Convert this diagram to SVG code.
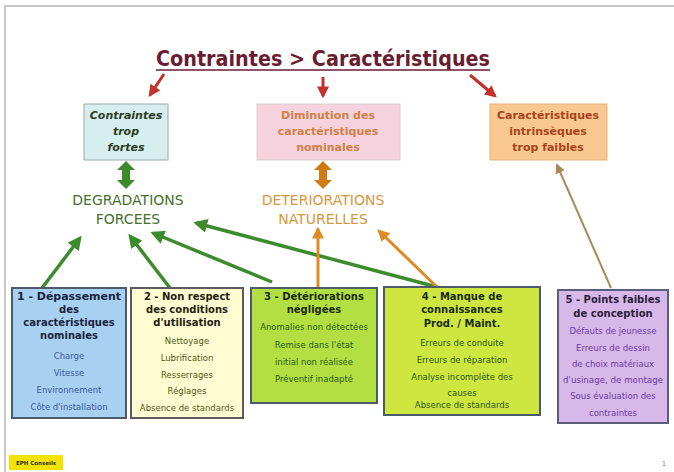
<svg xmlns="http://www.w3.org/2000/svg" width="674" height="472" viewBox="0 0 674 472">
  <style>
    text { font-family: "DejaVu Sans", "Liberation Sans", sans-serif; text-anchor: middle; }
    .hd { font-weight: bold; font-size: 10px; }
    .it { font-size: 8.5px; }
    .top { font-weight: bold; font-size: 11px; }
    .big { font-size: 14px; }
    .g { stroke: #3c8c2e; stroke-width: 3.5; fill: none; marker-end: url(#ag); }
    .o { stroke: #e08a24; stroke-width: 3; fill: none; marker-end: url(#ao); }
    .r { stroke: #c4302a; stroke-width: 3; fill: none; marker-end: url(#ar); }
  </style>
  <defs>
    <marker id="ag" viewBox="0 0 10 10" refX="8" refY="5" markerWidth="4" markerHeight="4" orient="auto">
      <path d="M0,0 L10,5 L0,10 z" fill="#3c8c2e"/>
    </marker>
    <marker id="ao" viewBox="0 0 10 10" refX="8" refY="5" markerWidth="4" markerHeight="4" orient="auto">
      <path d="M0,0 L10,5 L0,10 z" fill="#e08a24"/>
    </marker>
    <marker id="ar" viewBox="0 0 10 10" refX="8" refY="5" markerWidth="4" markerHeight="4" orient="auto">
      <path d="M0,0 L10,5 L0,10 z" fill="#c4302a"/>
    </marker>
    <marker id="ab" viewBox="0 0 10 10" refX="8" refY="5" markerWidth="5" markerHeight="5" orient="auto">
      <path d="M0,0 L10,5 L0,10 z" fill="#a88a5a"/>
    </marker>
  </defs>

  <!-- page -->
  <rect width="674" height="472" fill="#ffffff"/>
  <path d="M5,472 V6 H674" fill="none" stroke="#c8c8c8" stroke-width="2"/>

  <!-- title -->
  <g id="title">
    <text x="323" y="66" font-size="21" font-weight="bold" fill="#6a1d30" textLength="334" lengthAdjust="spacingAndGlyphs">Contraintes &gt; Caractéristiques</text>
    <line x1="156" y1="70" x2="490" y2="70" stroke="#6a1d30" stroke-width="1.5"/>
  </g>

  <!-- connectors -->
  <g id="connectors">
    <path class="r" d="M164,74 L150,95"/>
    <path class="r" d="M323,77 L323,96"/>
    <path class="r" d="M470,75 L495,96"/>

    <!-- double arrows -->
    <g fill="#3c8c2e">
      <rect x="122" y="168" width="8" height="14"/>
      <path d="M117,170 L126,161 L135,170 z"/>
      <path d="M117,180 L126,189 L135,180 z"/>
    </g>
    <g fill="#d07a14">
      <rect x="319" y="168" width="8" height="14"/>
      <path d="M314,170 L323,161 L332,170 z"/>
      <path d="M314,180 L323,189 L332,180 z"/>
    </g>

    <path d="M611,288 L557,165" stroke="#a88a5a" stroke-width="2" fill="none" marker-end="url(#ab)"/>

    <path class="g" d="M42,288 L80,238"/>
    <path class="g" d="M170,288 L130,236"/>
    <path class="g" d="M272,282 L153,233"/>
    <path class="g" d="M437,287 L196,223"/>
    <path class="o" d="M318,288 L318,229"/>
    <path class="o" d="M437,287 L379,231"/>
  </g>

  <!-- upper row -->
  <g id="contraintes-fortes">
    <rect x="84" y="104" width="84" height="56" fill="#d6eeee" stroke="#9aa" stroke-width="1"/>
    <text class="top" x="126" y="119" fill="#2c3c24" font-style="italic">Contraintes</text>
    <text class="top" x="126" y="135" fill="#2c3c24" font-style="italic">trop</text>
    <text class="top" x="126" y="151" fill="#2c3c24" font-style="italic">fortes</text>
  </g>
  <g id="diminution">
    <rect x="257" y="104" width="143" height="56" fill="#f6d2de" stroke="#dcc" stroke-width="1"/>
    <text class="top" x="328" y="119" fill="#cc8248" font-weight="normal">Diminution des</text>
    <text class="top" x="328" y="135" fill="#cc8248" font-weight="normal">caractéristiques</text>
    <text class="top" x="328" y="151" fill="#cc8248" font-weight="normal">nominales</text>
  </g>
  <g id="intrinseques">
    <rect x="490" y="104" width="117" height="56" fill="#f8c890" stroke="#e6b47a" stroke-width="1"/>
    <text class="top" x="548" y="119" fill="#a8441c">Caractéristiques</text>
    <text class="top" x="548" y="135" fill="#a8441c">intrinsèques</text>
    <text class="top" x="548" y="151" fill="#a8441c">trop faibles</text>
  </g>
  <g id="degradations">
    <text class="big" x="128" y="205" fill="#46702c">DEGRADATIONS</text>
    <text class="big" x="128" y="224" fill="#46702c">FORCEES</text>
  </g>
  <g id="deteriorations">
    <text class="big" x="323" y="205" fill="#d4983e">DETERIORATIONS</text>
    <text class="big" x="323" y="224" fill="#d4983e">NATURELLES</text>
  </g>

  <!-- bottom row -->
  <g id="cause1">
    <rect x="12" y="288" width="114" height="130" fill="#a8d0f0" stroke="#4c5a6c" stroke-width="2"/>
    <text class="hd" x="69" y="300" fill="#18243c" textLength="104" lengthAdjust="spacingAndGlyphs">1 - Dépassement</text>
    <text class="hd" x="69" y="313" fill="#18243c">des</text>
    <text class="hd" x="69" y="326" fill="#18243c">caractéristiques</text>
    <text class="hd" x="69" y="339" fill="#18243c">nominales</text>
    <text class="it" x="69" y="359" fill="#3a5c9c">Charge</text>
    <text class="it" x="69" y="376" fill="#3a5c9c">Vitesse</text>
    <text class="it" x="69" y="393" fill="#3a5c9c">Environnement</text>
    <text class="it" x="69" y="410" fill="#3a5c9c">Côte d'installation</text>
  </g>
  <g id="cause2">
    <rect x="131" y="288" width="112" height="130" fill="#fffcd2" stroke="#5c5c5c" stroke-width="2"/>
    <text class="hd" x="187" y="300" fill="#222210">2 - Non respect</text>
    <text class="hd" x="187" y="313" fill="#222210">des conditions</text>
    <text class="hd" x="187" y="326" fill="#222210">d'utilisation</text>
    <text class="it" x="187" y="344" fill="#4c5a20">Nettoyage</text>
    <text class="it" x="187" y="361" fill="#4c5a20">Lubrification</text>
    <text class="it" x="187" y="378" fill="#4c5a20">Resserrages</text>
    <text class="it" x="187" y="394" fill="#4c5a20">Réglages</text>
    <text class="it" x="187" y="411" fill="#4c5a20">Absence de standards</text>
  </g>
  <g id="cause3">
    <rect x="251" y="288" width="126" height="115" fill="#b2e042" stroke="#4c5a6c" stroke-width="2"/>
    <text class="hd" x="314" y="300" fill="#1c2c10">3 - Détériorations</text>
    <text class="hd" x="314" y="313" fill="#1c2c10">négligées</text>
    <text class="it" x="314" y="330" fill="#2c5a1c">Anomalies non détectées</text>
    <text class="it" x="314" y="348" fill="#2c5a1c">Remise dans l'état</text>
    <text class="it" x="314" y="365" fill="#2c5a1c">initial non réalisée</text>
    <text class="it" x="314" y="382" fill="#2c5a1c">Préventif inadapté</text>
  </g>
  <g id="cause4">
    <rect x="384" y="287" width="156" height="128" fill="#cee640" stroke="#4c5a6c" stroke-width="2"/>
    <text class="hd" x="462" y="300" fill="#1c2c10">4 - Manque de</text>
    <text class="hd" x="462" y="313" fill="#1c2c10">connaissances</text>
    <text class="hd" x="462" y="327" fill="#1c2c10">Prod. / Maint.</text>
    <text class="it" x="462" y="346" fill="#2c5a1c">Erreurs de conduite</text>
    <text class="it" x="462" y="363" fill="#2c5a1c">Erreurs de réparation</text>
    <text class="it" x="462" y="380" fill="#2c5a1c">Analyse incomplète des</text>
    <text class="it" x="462" y="396" fill="#2c5a1c">causes</text>
    <text class="it" x="462" y="408" fill="#2c5a1c">Absence de standards</text>
  </g>
  <g id="cause5">
    <rect x="558" y="290" width="110" height="133" fill="#d8b8e8" stroke="#5c5c7c" stroke-width="2"/>
    <text class="hd" x="613" y="303" fill="#2c1c3c">5 - Points faibles</text>
    <text class="hd" x="613" y="317" fill="#2c1c3c">de conception</text>
    <text class="it" x="613" y="334" fill="#6a3ca0">Défauts de jeunesse</text>
    <text class="it" x="613" y="351" fill="#6a3ca0">Erreurs de dessin</text>
    <text class="it" x="613" y="367" fill="#6a3ca0">de choix matériaux</text>
    <text class="it" x="613" y="383" fill="#6a3ca0" textLength="100" lengthAdjust="spacingAndGlyphs">d'usinage, de montage</text>
    <text class="it" x="613" y="399" fill="#6a3ca0">Sous évaluation des</text>
    <text class="it" x="613" y="416" fill="#6a3ca0">contraintes</text>
  </g>

  <!-- footer -->
  <g id="footer">
    <rect x="9" y="455" width="54" height="15" fill="#f2e400"/>
    <text x="36" y="465" font-size="5.5" font-weight="bold" fill="#333">EPH Conseils</text>
    <text x="664" y="466" font-size="7" fill="#888">1</text>
  </g>
</svg>
